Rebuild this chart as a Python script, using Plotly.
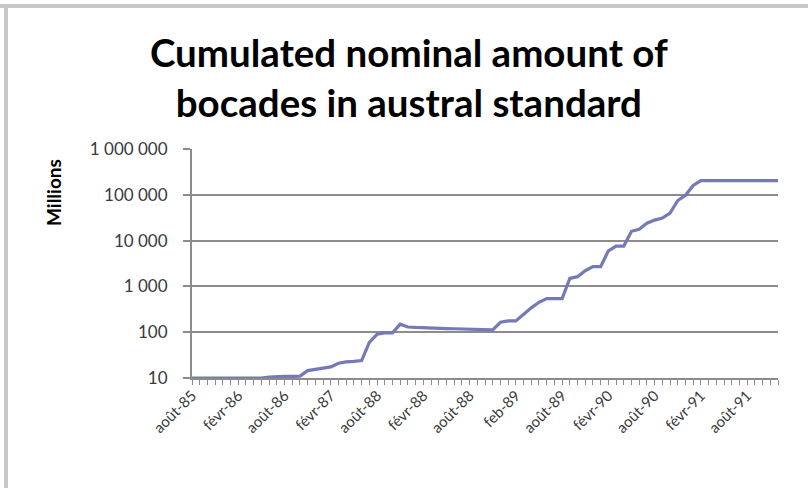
import plotly.graph_objects as go

# Cumulated nominal amount (millions), monthly from août-85
amounts = [
    10, 10, 10, 10, 10, 10, 10, 10, 10, 10,
    10.5, 10.8, 10.8, 10.8, 11, 14.5, 15.5, 16.5, 17.5, 21,
    22.5, 23, 24, 60, 90, 97, 97, 150, 130, 127,
    124, 122, 121, 120, 119, 118, 117, 116, 115, 113,
    165, 176, 176, 250, 340, 450, 540, 540, 540, 1500,
    1630, 2200, 2700, 2700, 6000, 7600, 7600, 16000, 17700, 24000,
    28000, 31000, 40000, 75000, 98000, 160000, 203000, 203000, 203000, 203000,
    203000, 203000, 203000, 203000, 203000, 203000, 203000,
]
x_labels = ["août-85", "févr-86", "août-86", "févr-87", "août-88", "févr-88",
            "août-88", "feb-89", "août-89", "févr-90", "août-90", "févr-91", "août-91"]
label_step = 6
y_tickvals = [10, 100, 1000, 10000, 100000, 1000000]
y_ticktext = ["10", "100", "1 000", "10 000", "100 000", "1 000 000"]
title_text = "Cumulated nominal amount of<br>bocades in austral standard"
y_title = "Millions"

n = len(amounts)
xs = list(range(n))
tickvals = xs
ticktext = [x_labels[i // label_step] if i % label_step == 0 and i // label_step < len(x_labels) else "" for i in xs]

W, H = 808, 488
L, R, T, B = 192, 30, 149, 110
pw, ph = W - L - R, H - T - B

fig = go.Figure(go.Scatter(x=xs, y=amounts, mode="lines",
                           line=dict(color="#7479b8", width=3.2), showlegend=False))

grid = "#8c8c8c"
fig.update_layout(
    width=W, height=H,
    margin=dict(l=L, r=R, t=T, b=B),
    paper_bgcolor="white", plot_bgcolor="white",
    font=dict(family="Lato, sans-serif", color="#3a3a3a"),
    title=dict(text=title_text, x=0.506, xref="container", xanchor="center",
               y=0.862, yref="container", yanchor="middle",
               font=dict(family="Lato, sans-serif", size=38.5, color="black", weight="bold")),
    xaxis=dict(range=[0, n - 1], tickmode="array", tickvals=tickvals, ticktext=ticktext,
               tickangle=-45, ticks="outside", ticklen=5, tickcolor=grid, tickwidth=1,
               showline=True, linecolor=grid, linewidth=2, showgrid=False, zeroline=False,
               ticklabelstandoff=-4,
               tickfont=dict(size=15, color="#3a3a3a")),
    yaxis=dict(type="log", range=[1, 6], tickmode="array", tickvals=y_tickvals, ticktext=y_ticktext,
               ticks="outside", ticklen=7, tickcolor=grid, tickwidth=2,
               showline=True, linecolor=grid, linewidth=2,
               showgrid=True, gridcolor=grid, gridwidth=2, zeroline=False,
               ticklabelstandoff=12,
               tickfont=dict(size=17, color="#3a3a3a")),
    annotations=[dict(text="<b>" + y_title + "</b>", textangle=-90, xref="paper", yref="paper",
                      x=(53 - L) / pw, y=(H - B - 193) / ph, showarrow=False,
                      xanchor="center", yanchor="middle",
                      font=dict(size=19, color="black"))],
    shapes=[
        dict(type="rect", xref="paper", yref="paper",
             x0=(0 - L) / pw, x1=(W - L) / pw, y0=(H - B - 8) / ph, y1=(H - B - 4) / ph,
             fillcolor="#c8c8c8", line=dict(width=0), layer="below"),
        dict(type="rect", xref="paper", yref="paper",
             x0=(4 - L) / pw, x1=(8 - L) / pw, y0=(H - B - H) / ph, y1=(H - B - 4) / ph,
             fillcolor="#c8c8c8", line=dict(width=0), layer="below"),
    ],
)

fig.write_html("out.html", config={"displayModeBar": False},
               post_script="document.body.style.margin='0';document.body.style.overflow='hidden';")
